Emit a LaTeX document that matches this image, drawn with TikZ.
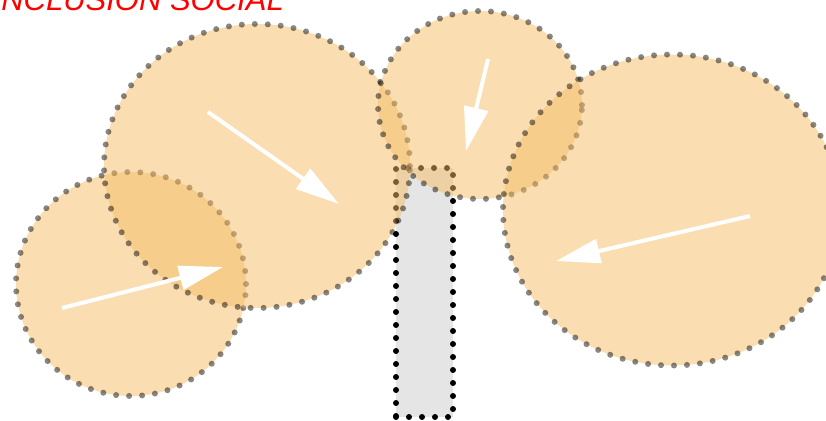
\documentclass[tikz,border=0pt]{standalone}
\usepackage{fontspec}
\setmainfont{Liberation Sans}
\usetikzlibrary{shapes.geometric,arrows.meta,positioning}
\definecolor{zonafill}{RGB}{245,189,101}

\begin{document}
\begin{tikzpicture}[x=1pt, y=-1pt,
    zona/.style={ellipse, draw=black, fill=zonafill, fill opacity=0.5, draw opacity=0.47,
        line width=6pt, line cap=round, dash pattern=on 0pt off 13pt, inner sep=0pt, outer sep=0pt},
    tronco/.style={rectangle, draw=black, fill=black!10, line width=6pt, line cap=round,
        dash pattern=on 0pt off 13pt, inner sep=0pt, outer sep=0pt},
    flecha/.style={draw=white, line width=4pt, -{Triangle[length=44pt,width=24pt]}}
]
\useasboundingbox (0,0) rectangle (826,420);

% Title
\node[anchor=base east, text=red, font=\fontsize{31}{37}\selectfont\itshape, inner sep=0pt] (titulo) at (284,11) {INCLUSIÓN SOCIAL};

% Trunk
\node[tronco, minimum width=57pt, minimum height=249pt] (tallo) at (424.5,292.5) {};

% Zones
\node[zona, minimum width=230pt, minimum height=224pt] (izq) at (131,284) {};
\node[zona, minimum width=306pt, minimum height=284pt] (centro) at (257,166) {};
\node[zona, minimum width=204pt, minimum height=188pt] (arriba) at (480,105) {};
\node[zona, minimum width=338pt, minimum height=311pt] (der) at (672,210) {};

% Arrows
\coordinate (a1) at (62,308);   \coordinate (b1) at (223,267);
\coordinate (a2) at (208,112);  \coordinate (b2) at (339,204);
\coordinate (a3) at (488,59);   \coordinate (b3) at (466,151);
\coordinate (a4) at (750,216);  \coordinate (b4) at (556,261);
\draw[flecha] (a1) -- (b1);
\draw[flecha] (a2) -- (b2);
\draw[flecha] (a3) -- (b3);
\draw[flecha] (a4) -- (b4);

\end{tikzpicture}
\end{document}
